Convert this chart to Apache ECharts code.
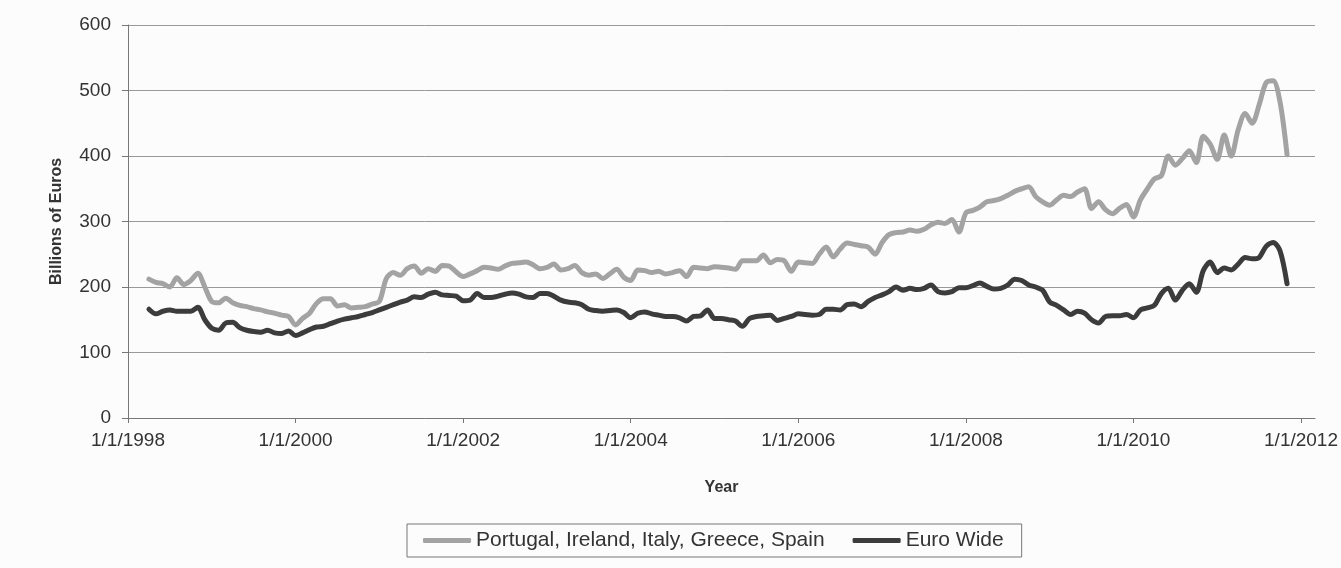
<!DOCTYPE html>
<html>
<head>
<meta charset="utf-8">
<title>Billions of Euros</title>
<script src="https://cdn.jsdelivr.net/npm/echarts@6/dist/echarts.min.js"></script>
<style>
  html, body { margin: 0; padding: 0; background: #fcfcfc; }
  #chart { width: 1341px; height: 568px; }
</style>
</head>
<body>
<div id="chart"></div>
<script>
// monthly categories, 1/1/1998 .. 3/1/2012
var startYear = 1998;
var monthCount = 171;
var months = [];
for (var i = 0; i < monthCount; i++) {
    months.push((i % 12 + 1) + '/1/' + (startYear + Math.floor(i / 12)));
}

// Portugal, Ireland, Italy, Greece, Spain (from Apr 1998)
var piigs = [null, null, null,
    212, 207, 205, 200, 214, 204, 210, 221, 200,
    178, 176, 183, 176, 172, 170, 167, 165, 162, 160, 157, 155,
    142, 152, 160, 175, 182, 182, 171, 173, 168, 169, 170, 174,
    178, 213, 222, 218, 228, 232, 221, 228, 224, 233, 232, 223,
    216, 220, 225, 230, 229, 227, 232, 236, 237, 238, 234, 228,
    230, 235, 226, 228, 233, 222, 218, 220, 213, 220, 227, 215,
    210, 226, 225, 222, 224, 220, 222, 225, 216, 230, 229, 228,
    231, 230, 229, 227, 240, 240, 240, 249, 237, 242, 240, 224,
    238, 237, 236, 250, 261, 246, 258, 267, 265, 263, 261, 250,
    268, 280, 283, 284, 287, 285, 288, 295, 299, 297, 303, 284,
    313, 317, 322, 330, 332, 335, 340, 346, 350, 353, 338, 330,
    325, 333, 340, 338, 345, 350, 320, 330, 318, 312, 320, 326,
    307, 333, 350, 365, 370, 400, 386, 396, 408, 390, 430, 418,
    395, 432, 400, 440, 465, 450, 478, 512, 515, 482, 402];

// Euro Wide
var euroWide = [null, null, null,
    166, 159, 163, 165, 163, 163, 163, 169, 150,
    137, 134, 145, 146, 138, 134, 132, 131, 134, 130, 129, 133,
    126, 130, 135, 139, 140, 144, 148, 151, 153, 155, 158, 161,
    165, 169, 173, 177, 180, 185, 184, 189, 192, 188, 187, 186,
    179, 180, 190, 184, 184, 186, 189, 191, 189, 185, 184, 190,
    190, 186, 180, 177, 176, 173, 166, 164, 163, 164, 165, 161,
    153, 160, 162, 159, 157, 155, 155, 153, 148, 155, 156, 165,
    152, 152, 150, 148, 140, 152, 155, 156, 157, 149, 152, 155,
    159, 158, 157, 158, 166, 166, 165, 173, 174, 170, 178, 184,
    188, 193, 200, 195, 198, 196, 198, 203, 193, 191, 193, 199,
    199, 202, 206, 201, 197, 198, 203, 212, 210, 203, 200, 195,
    177, 172, 165, 158, 163, 160, 150, 145, 155, 156, 156, 158,
    153, 165, 168, 172, 190, 198, 180, 195, 205, 192, 225, 238,
    222, 229, 226, 235, 245, 243, 245, 262, 268, 255, 205];

var myChart = echarts.init(document.getElementById('chart'));
myChart.setOption({
    backgroundColor: '#fcfcfc',
    animation: false,
    textStyle: { fontFamily: 'Liberation Sans, Arial, sans-serif', color: '#333' },
    grid: { left: 128, right: 26, top: 25, bottom: 150 },
    legend: {
        bottom: 11,
        left: 407,
        padding: [6, 18, 6, 16],
        itemGap: 28,
        itemWidth: 48,
        itemHeight: 5,
        icon: 'roundRect',
        borderColor: '#777',
        borderWidth: 1,
        textStyle: { fontSize: 21, color: '#333', fontFamily: 'Liberation Sans, Arial, sans-serif' },
        data: ['Portugal, Ireland, Italy, Greece, Spain', 'Euro Wide']
    },
    xAxis: {
        type: 'category',
        data: months,
        boundaryGap: false,
        name: 'Year',
        nameLocation: 'middle',
        nameGap: 62,
        nameTextStyle: { fontSize: 16, fontWeight: 'bold', color: '#333' },
        axisLine: { lineStyle: { color: '#777', width: 1 } },
        axisTick: { show: true, interval: 23, length: 5, lineStyle: { color: '#777' } },
        axisLabel: { interval: 23, fontSize: 19, color: '#333', margin: 13 },
        splitLine: { show: false }
    },
    yAxis: {
        type: 'value',
        min: 0,
        max: 600,
        interval: 100,
        name: 'Billions of Euros',
        nameLocation: 'middle',
        nameGap: 63,
        nameTextStyle: { fontSize: 16, fontWeight: 'bold', color: '#333' },
        axisLine: { show: true, lineStyle: { color: '#777', width: 1 } },
        axisTick: { show: true, length: 6, lineStyle: { color: '#777' } },
        axisLabel: { fontSize: 19, color: '#333', margin: 17 },
        splitLine: { lineStyle: { color: '#999', width: 1 } }
    },
    series: [
        {
            name: 'Portugal, Ireland, Italy, Greece, Spain',
            type: 'line',
            data: piigs,
            symbol: 'none',
            smooth: 0.3,
            color: '#a3a3a3',
            lineStyle: { color: '#a3a3a3', width: 5, cap: 'round', join: 'round' }
        },
        {
            name: 'Euro Wide',
            type: 'line',
            data: euroWide,
            symbol: 'none',
            smooth: 0.3,
            color: '#3c3c3c',
            lineStyle: { color: '#3c3c3c', width: 5, cap: 'round', join: 'round' }
        }
    ]
});
</script>
</body>
</html>
